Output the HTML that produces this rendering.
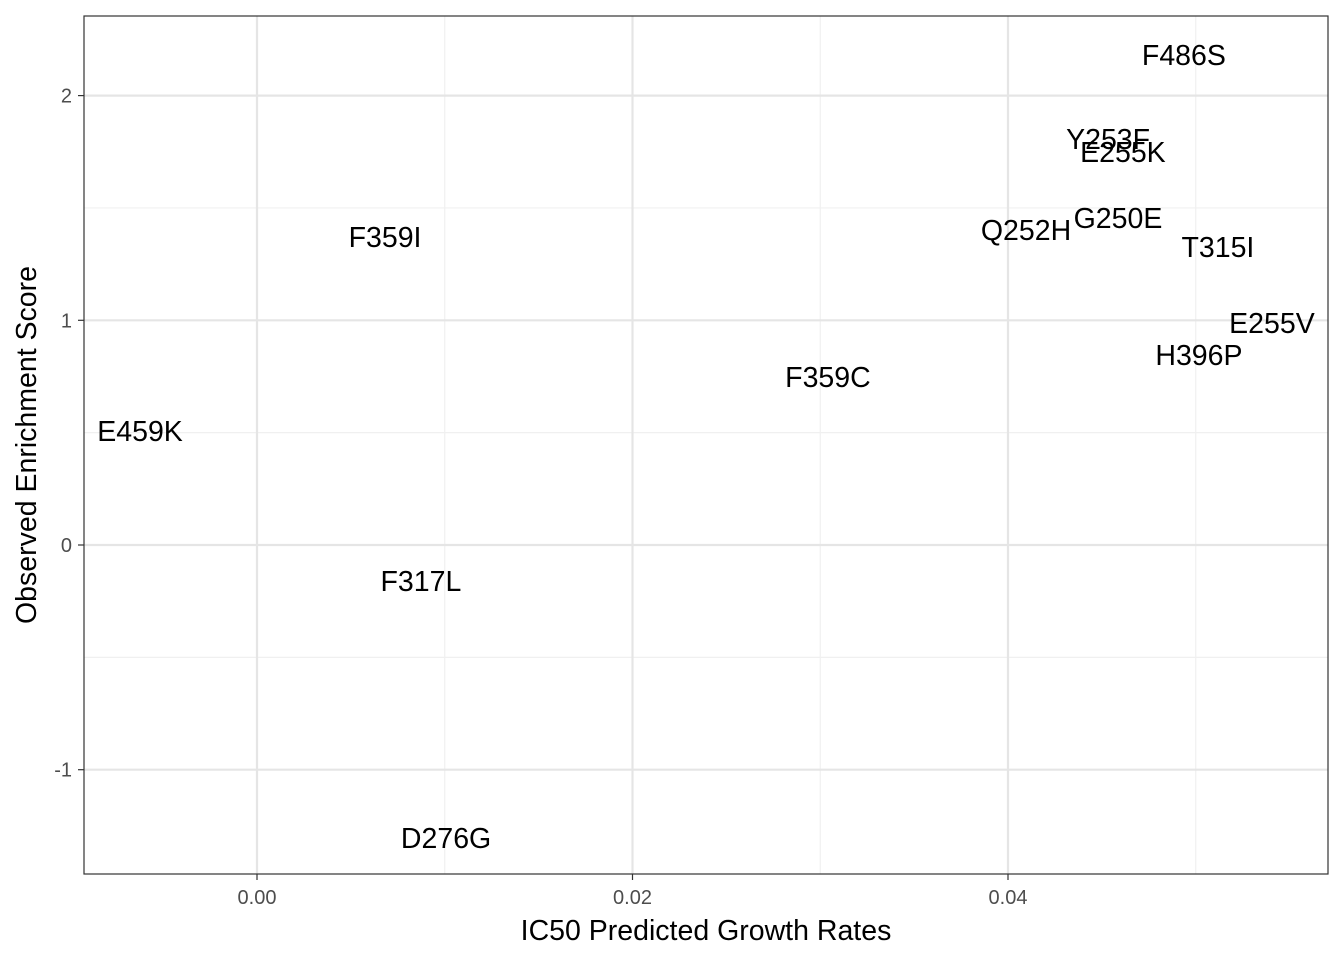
<!DOCTYPE html>
<html><head><meta charset="utf-8"><style>
body{margin:0;background:#fff;}
svg{display:block;font-family:"Liberation Sans",Arial,sans-serif;}
</style></head><body>
<svg id="chart" width="1344" height="960"></svg>
<script>
const labels=["F486S","Y253F","E255K","G250E","Q252H","T315I","F359I","E255V","H396P","F359C","E459K","F317L","D276G"];
const xVals=[0.04937,0.04533,0.04612,0.04586,0.04096,0.05118,0.00682,0.05406,0.05017,0.03041,-0.00623,0.00873,0.01007];
const yVals=[2.18,1.807,1.749,1.455,1.402,1.326,1.371,0.988,0.846,0.748,0.507,-0.160,-1.304];
const xTicks=[0,0.02,0.04];
const xTickLabels=["0.00","0.02","0.04"];
const yTicks=[-1,0,1,2];
const yTickLabels=["-1","0","1","2"];
const xMinor=[0.01,0.03,0.05];
const yMinor=[-0.5,0.5,1.5];

const L=84,R=1328,T=16,B=874;
const sx=v=>257+v*18775;
const sy=v=>545-v*224.7;
const svg=document.getElementById('chart');
const NS='http://www.w3.org/2000/svg';
function mk(t,a,p){const e=document.createElementNS(NS,t);for(const k in a)e.setAttribute(k,a[k]);(p||svg).appendChild(e);return e;}

xMinor.forEach(v=>{const e=mk('line',{x1:sx(v),x2:sx(v),y1:T,y2:B,stroke:'#f0f0f0','stroke-width':1.2});

});
yMinor.forEach(v=>{const e=mk('line',{x1:L,x2:R,y1:sy(v),y2:sy(v),stroke:'#f0f0f0','stroke-width':1.2});

});
xTicks.forEach((v,i)=>{const g=mk('line',{x1:sx(v),x2:sx(v),y1:T,y2:B,stroke:'#e5e5e5','stroke-width':2.2});


const tk=mk('line',{x1:sx(v),x2:sx(v),y1:B,y2:B+6,stroke:'#333','stroke-width':1.2});


const t=mk('text',{x:sx(v),y:B+30,'text-anchor':'middle','font-size':20,fill:'#4d4d4d'});t.textContent=xTickLabels[i];

});
yTicks.forEach((v,i)=>{const g=mk('line',{x1:L,x2:R,y1:sy(v),y2:sy(v),stroke:'#e5e5e5','stroke-width':2.2});


const tk=mk('line',{x1:L-6,x2:L,y1:sy(v),y2:sy(v),stroke:'#333','stroke-width':1.2});


const t=mk('text',{x:L-12,y:sy(v)+7,'text-anchor':'end','font-size':20,fill:'#4d4d4d'});t.textContent=yTickLabels[i];

});
labels.forEach((s,i)=>{const t=mk('text',{x:sx(xVals[i]),y:sy(yVals[i])+10,'text-anchor':'middle','font-size':28.5,fill:'#000'});t.textContent=s;

});
const fr=mk('rect',{x:L,y:T,width:R-L,height:B-T,fill:'none',stroke:'#333','stroke-width':1.2});


const xt=mk('text',{x:(L+R)/2,y:940,'text-anchor':'middle','font-size':28.5,fill:'#000'});xt.textContent='IC50 Predicted Growth Rates';


const yt=mk('text',{x:0,y:0,'text-anchor':'middle','font-size':28.5,fill:'#000',transform:'translate(36,445) rotate(-90)'});yt.textContent='Observed Enrichment Score';


</script>
</body></html>
